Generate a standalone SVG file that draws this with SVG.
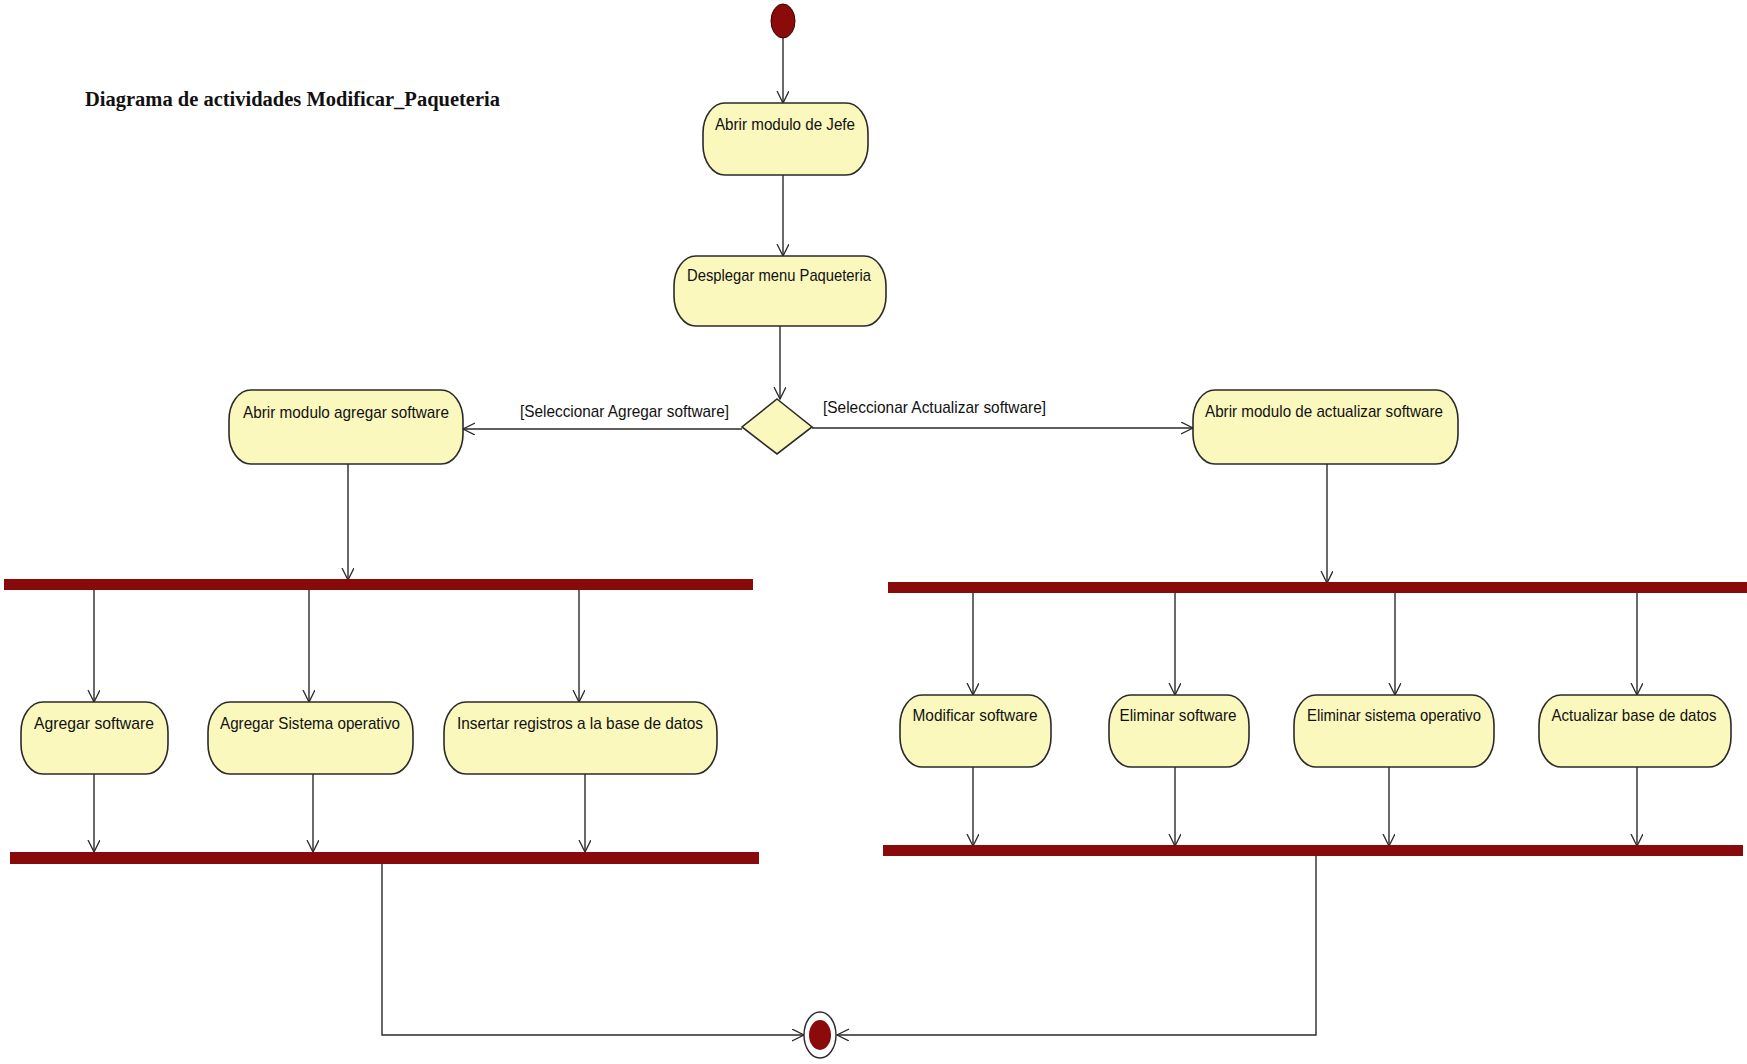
<svg xmlns="http://www.w3.org/2000/svg" width="1747" height="1064" viewBox="0 0 1747 1064">
<defs>
<style>
.act{fill:#FBF8BE;stroke:#2a2a2a;stroke-width:1.6}
.bar{fill:#880A0A}
.t{font-family:"Liberation Sans",Arial,sans-serif;font-size:17px;fill:#111;text-anchor:middle}
.g{font-family:"Liberation Sans",Arial,sans-serif;font-size:17px;fill:#111}
.title{font-family:"Liberation Serif","Times New Roman",serif;font-size:20px;font-weight:bold;fill:#111}
.c{fill:none;stroke:#2a2a2a;stroke-width:1.4}
</style>
<marker id="arr" markerUnits="userSpaceOnUse" markerWidth="14" markerHeight="14" refX="12" refY="6" orient="auto">
<path d="M0,0 L12,6 L0,12" fill="none" stroke="#2a2a2a" stroke-width="1.3"/>
</marker>
</defs>
<rect width="1747" height="1064" fill="#ffffff"/>
<text class="title" x="85" y="106" textLength="415" lengthAdjust="spacingAndGlyphs">Diagrama de actividades Modificar_Paqueteria</text>

<g id="connectors">
<path class="c" d="M783,38 V103" marker-end="url(#arr)"/>
<path class="c" d="M783,175 V256" marker-end="url(#arr)"/>
<path class="c" d="M780,326 V399" marker-end="url(#arr)"/>
<path class="c" d="M742,429 H463" marker-end="url(#arr)"/>
<path class="c" d="M812,428 H1193" marker-end="url(#arr)"/>
<path class="c" d="M348,464 V580" marker-end="url(#arr)"/>
<path class="c" d="M1327,464 V583" marker-end="url(#arr)"/>
<path class="c" d="M94,590 V702" marker-end="url(#arr)"/>
<path class="c" d="M309,590 V702" marker-end="url(#arr)"/>
<path class="c" d="M579,590 V702" marker-end="url(#arr)"/>
<path class="c" d="M94,774 V852" marker-end="url(#arr)"/>
<path class="c" d="M313,774 V852" marker-end="url(#arr)"/>
<path class="c" d="M585,774 V852" marker-end="url(#arr)"/>
<path class="c" d="M973,593 V695" marker-end="url(#arr)"/>
<path class="c" d="M1175,593 V695" marker-end="url(#arr)"/>
<path class="c" d="M1395,593 V695" marker-end="url(#arr)"/>
<path class="c" d="M1637,593 V695" marker-end="url(#arr)"/>
<path class="c" d="M973,767 V846" marker-end="url(#arr)"/>
<path class="c" d="M1175,767 V846" marker-end="url(#arr)"/>
<path class="c" d="M1389,767 V846" marker-end="url(#arr)"/>
<path class="c" d="M1637,767 V846" marker-end="url(#arr)"/>
<path class="c" d="M382,864 V1035 H804" marker-end="url(#arr)"/>
<path class="c" d="M1316,856 V1035 H837" marker-end="url(#arr)"/>
<text class="g" x="520" y="417" textLength="209" lengthAdjust="spacingAndGlyphs">[Seleccionar Agregar software]</text>
<text class="g" x="823" y="413" textLength="223" lengthAdjust="spacingAndGlyphs">[Seleccionar Actualizar software]</text>
</g>

<g id="start"><ellipse cx="783" cy="21" rx="12" ry="17" fill="#8B0A0A" stroke="#3a0000" stroke-width="1"/></g>

<g id="n_jefe"><rect class="act" x="703" y="103" width="165" height="72" rx="22" ry="30"/><text class="t" x="785" y="130" textLength="140" lengthAdjust="spacingAndGlyphs">Abrir modulo de Jefe</text></g>
<g id="n_desplegar"><rect class="act" x="674" y="256" width="212" height="70" rx="22" ry="30"/><text class="t" x="779" y="281" textLength="184" lengthAdjust="spacingAndGlyphs">Desplegar menu Paqueteria</text></g>
<g id="decision"><polygon points="777,399 812,427 777,454 742,427" fill="#FBF8BE" stroke="#2a2a2a" stroke-width="1.6"/></g>
<g id="n_agregar_mod"><rect class="act" x="229" y="390" width="234" height="74" rx="22" ry="30"/><text class="t" x="346" y="418" textLength="206" lengthAdjust="spacingAndGlyphs">Abrir modulo agregar software</text></g>
<g id="n_actualizar_mod"><rect class="act" x="1193" y="390" width="265" height="74" rx="22" ry="30"/><text class="t" x="1324" y="417" textLength="238" lengthAdjust="spacingAndGlyphs">Abrir modulo de actualizar software</text></g>

<g id="fork_left"><rect class="bar" x="4" y="579" width="749" height="11"/></g>
<g id="join_left"><rect class="bar" x="10" y="852" width="749" height="12"/></g>
<g id="fork_right"><rect class="bar" x="888" y="582" width="859" height="11"/></g>
<g id="join_right"><rect class="bar" x="883" y="845" width="860" height="11"/></g>

<g id="n_agregar_sw"><rect class="act" x="21" y="702" width="147" height="72" rx="22" ry="30"/><text class="t" x="94" y="729" textLength="120" lengthAdjust="spacingAndGlyphs">Agregar software</text></g>
<g id="n_agregar_so"><rect class="act" x="208" y="702" width="205" height="72" rx="22" ry="30"/><text class="t" x="310" y="729" textLength="180" lengthAdjust="spacingAndGlyphs">Agregar Sistema operativo</text></g>
<g id="n_insertar"><rect class="act" x="444" y="702" width="273" height="72" rx="22" ry="30"/><text class="t" x="580" y="729" textLength="246" lengthAdjust="spacingAndGlyphs">Insertar registros a la base de datos</text></g>

<g id="n_modificar"><rect class="act" x="900" y="695" width="151" height="72" rx="22" ry="30"/><text class="t" x="975" y="721" textLength="125" lengthAdjust="spacingAndGlyphs">Modificar software</text></g>
<g id="n_eliminar_sw"><rect class="act" x="1109" y="695" width="140" height="72" rx="22" ry="30"/><text class="t" x="1178" y="721" textLength="117" lengthAdjust="spacingAndGlyphs">Eliminar software</text></g>
<g id="n_eliminar_so"><rect class="act" x="1294" y="695" width="200" height="72" rx="22" ry="30"/><text class="t" x="1394" y="721" textLength="174" lengthAdjust="spacingAndGlyphs">Eliminar sistema operativo</text></g>
<g id="n_actualizar_bd"><rect class="act" x="1539" y="695" width="192" height="72" rx="22" ry="30"/><text class="t" x="1634" y="721" textLength="165" lengthAdjust="spacingAndGlyphs">Actualizar base de datos</text></g>

<g id="end"><ellipse cx="820" cy="1035" rx="16" ry="23" fill="#ffffff" stroke="#2a2a2a" stroke-width="1.4"/><ellipse cx="820" cy="1035" rx="11" ry="15" fill="#8B0A0A"/></g>
</svg>
